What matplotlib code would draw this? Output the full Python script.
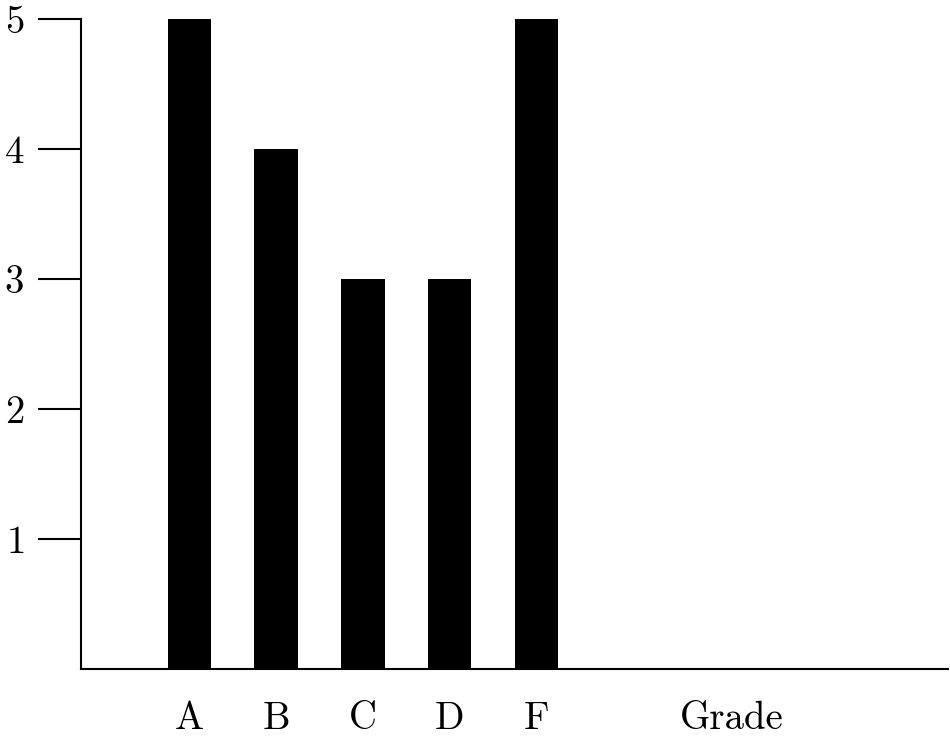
import matplotlib
matplotlib.use("Agg")
import matplotlib.pyplot as plt

plt.rcParams['font.family'] = ['cmr10', 'DejaVu Serif']
plt.rcParams['axes.formatter.use_mathtext'] = True

grades = ['A', 'B', 'C', 'D', 'F']
counts = [5, 4, 3, 3, 5]
yticks = [1, 2, 3, 4, 5]

fig = plt.figure(figsize=(9.5, 7.37), dpi=100)
ax = fig.add_axes([0.0853, 0.0923, 0.9127, 0.8817])

pos = [i + 1 for i in range(len(grades))]
ax.bar(pos, counts, width=0.5, align='edge', color='black', edgecolor='none')

ax.set_xlim(0, 10)
ax.set_ylim(0, 5)
ax.set_xticks([p + 0.25 for p in pos])
ax.set_xticklabels(grades)
ax.set_yticks(yticks)

ax.tick_params(axis='x', length=0, pad=23, labelsize=28)
ax.tick_params(axis='y', direction='out', length=31, width=1.5, pad=10, labelsize=28)

for s in ['top', 'right']:
    ax.spines[s].set_visible(False)
for s in ['left', 'bottom']:
    ax.spines[s].set_linewidth(1.5)

ax.set_xlabel('Grade', fontsize=28, va='top')
ax.xaxis.set_label_coords(0.75, -0.05)

fig.savefig('out.png', dpi=100)
